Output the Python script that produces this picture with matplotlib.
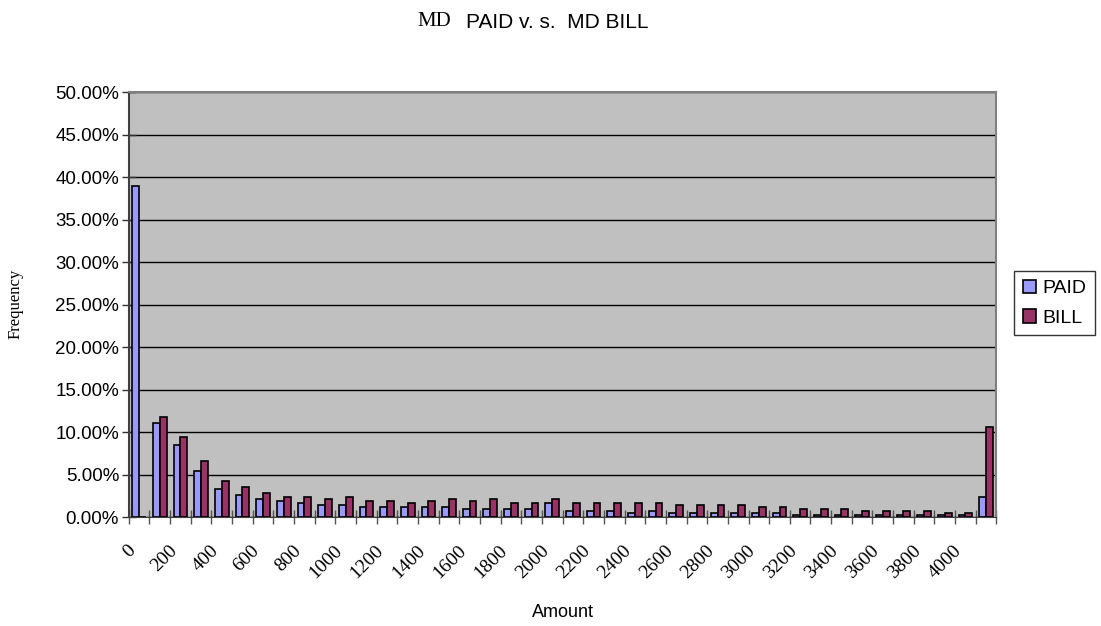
import matplotlib.pyplot as plt
import matplotlib.transforms as mtransforms
import numpy as np

# bins of 100, last one is everything above 4000
bins = list(range(0, 4100, 100)) + [4100]
paid = [39.0, 11.06, 8.47, 5.41, 3.33, 2.62, 2.15, 1.88, 1.65, 1.45,
        1.45, 1.21, 1.21, 1.21, 1.18, 1.18, 0.94, 0.94, 0.94, 0.94,
        1.65, 0.71, 0.71, 0.71, 0.47, 0.71, 0.47, 0.47, 0.47, 0.47,
        0.47, 0.47, 0.24, 0.24, 0.24, 0.24, 0.24, 0.24, 0.24, 0.24,
        0.24, 2.35]
bill = [0.0, 11.76, 9.37, 6.59, 4.23, 3.52, 2.82, 2.39, 2.39, 2.15,
        2.39, 1.88, 1.88, 1.65, 1.92, 2.16, 1.92, 2.16, 1.65, 1.65,
        2.16, 1.65, 1.65, 1.65, 1.65, 1.65, 1.41, 1.41, 1.41, 1.41,
        1.18, 1.18, 0.94, 0.94, 0.94, 0.71, 0.71, 0.71, 0.71, 0.47,
        0.47, 10.59]
tick_labels = [str(b) for b in range(0, 4001, 200)]

sans = "Liberation Sans"
serif = "Liberation Serif"

fig = plt.figure(figsize=(11.01, 6.26), dpi=100)
ax = fig.add_axes([0.117, 0.174, 0.788, 0.679])
ax.set_facecolor("#C0C0C0")

x = np.arange(len(bins))
w = 0.33
ax.bar(x - w / 2, paid, w, color="#9999FF", edgecolor="black", linewidth=1.2, label="PAID", zorder=3)
ax.bar(x + w / 2, bill, w, color="#993366", edgecolor="black", linewidth=1.2, label="BILL", zorder=3)

ax.set_xlim(-0.5, len(bins) - 0.5)
ax.set_ylim(0, 50)
yt = np.arange(0, 51, 5)
ax.set_yticks(yt)
ax.set_yticklabels(["%.2f%%" % v for v in yt], fontsize=13.5, family=sans)
ax.yaxis.grid(True, color="black", linewidth=1, zorder=1)
ax.tick_params(axis="y", direction="inout", length=10, width=1, color="#333333", pad=2)

ax.set_xticks(x[0:41:2])
ax.set_xticklabels(tick_labels, rotation=45, ha="right", rotation_mode="anchor",
                   fontsize=14, family=serif)
ax.set_xticks(np.arange(-0.5, len(bins), 1), minor=True)
ax.tick_params(axis="x", which="major", length=0, pad=13)
ax.tick_params(axis="x", which="minor", direction="inout", length=10, width=1, color="#555555")
# nudge the slanted labels down-left like the original
shift = mtransforms.ScaledTranslation(-0.12, -0.07, fig.dpi_scale_trans)
for lbl in ax.get_xticklabels():
    lbl.set_transform(lbl.get_transform() + shift)

for s in ["top", "right"]:
    ax.spines[s].set_color("#808080")
    ax.spines[s].set_linewidth(1.5)
ax.spines["left"].set_color("#404040")
ax.spines["left"].set_linewidth(1.5)
ax.spines["bottom"].set_color("#404040")

fig.text(0.379, 0.966, "MD", fontsize=15, family=serif, ha="left", va="center")
fig.text(0.423, 0.964, "PAID v. s.  MD BILL", fontsize=15, family=sans, ha="left", va="center")
fig.text(0.014, 0.515, "Frequency", fontsize=12, family=serif, rotation=90, ha="center", va="center")
fig.text(0.511, 0.022, "Amount", fontsize=13, family=sans, ha="center", va="center")

leg = fig.legend(loc="upper left", bbox_to_anchor=(0.921, 0.567), prop={"family": sans, "size": 14},
                 frameon=True, fancybox=False, edgecolor="black", handlelength=0.7,
                 handleheight=0.7, handletextpad=0.3, borderpad=0.45, labelspacing=0.6,
                 borderaxespad=0)
leg.get_frame().set_linewidth(1)

fig.savefig("out.png", dpi=100)
